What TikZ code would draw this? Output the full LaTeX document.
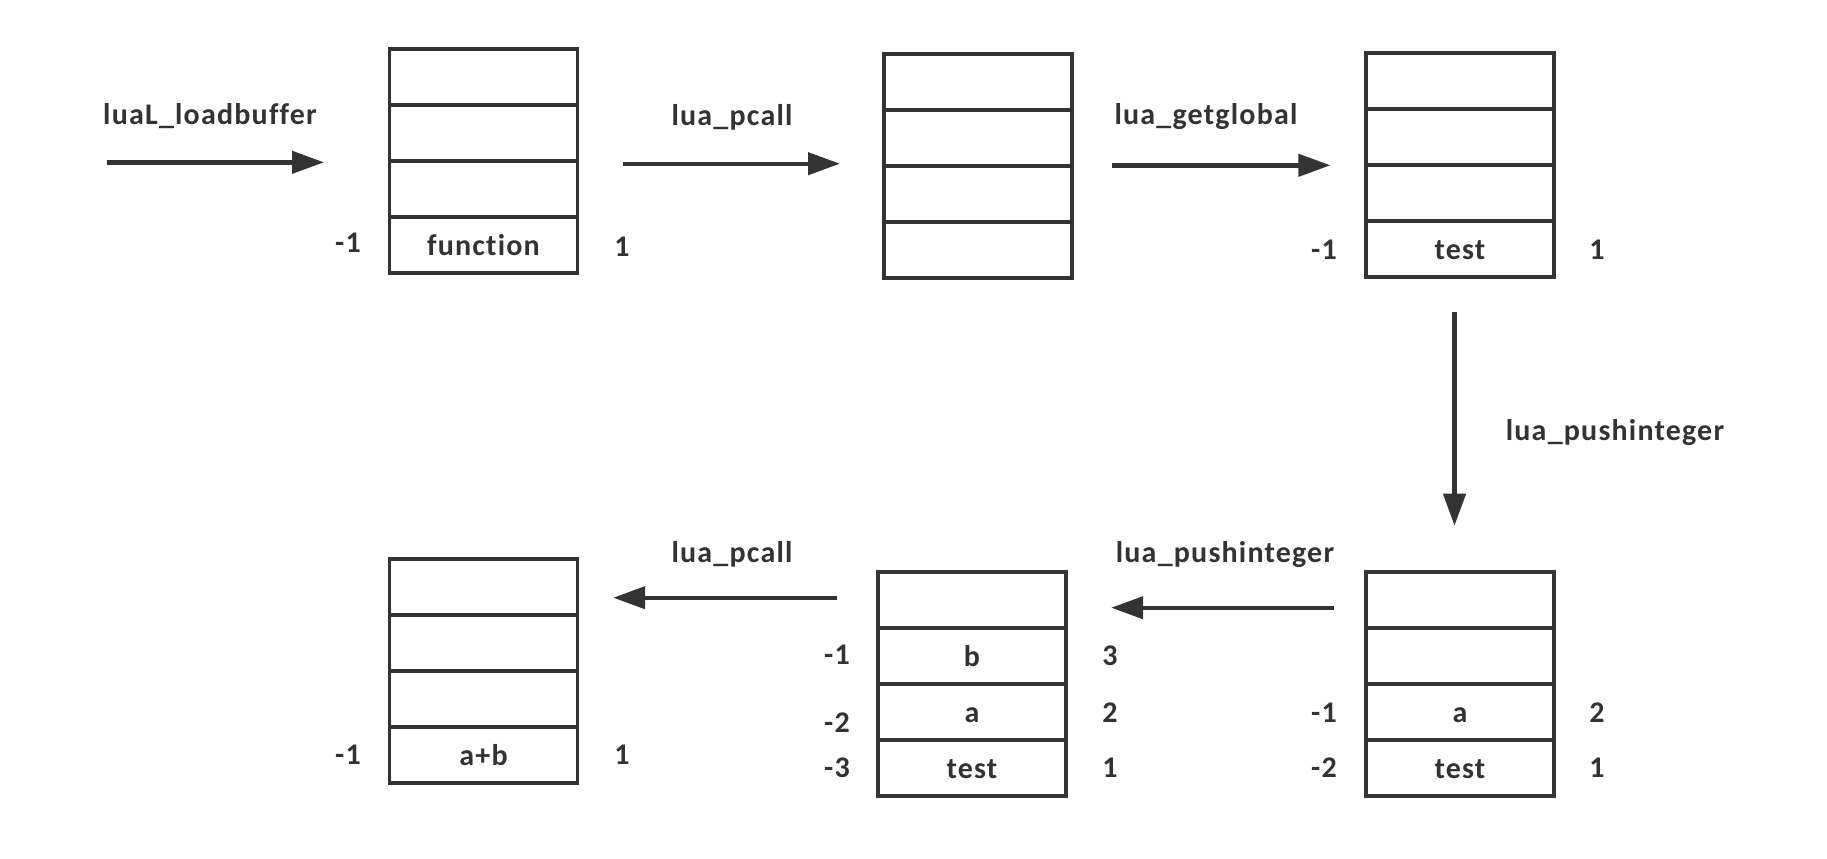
\documentclass[tikz,border=0pt]{standalone}
\usepackage{fontspec}
\newfontfamily\lblfont{Carlito}[LetterSpace=4,Ligatures={NoCommon}]
\usetikzlibrary{arrows.meta,calc}
\definecolor{ink}{HTML}{333333}
\tikzset{
  txt/.style={font=\lblfont\bfseries\fontsize{15}{18}\selectfont, text=ink, inner sep=0pt},
  cell/.style={txt, draw=ink, line width=1.8pt, minimum width=94pt, minimum height=28pt,
               text height=10.5pt, text depth=0pt},
  side/.style={txt, anchor=base},
  lbl/.style={txt, anchor=base},
  arr/.style={draw=ink, line width=2.2pt, -{Triangle[length=16pt,width=11pt]}}
}
\newcommand\mystack[7]{%
  \node[cell] (#1a) at ({#2},{#3+28}) {#4};
  \node[cell] (#1b) at ({#2},{#3+84}) {#5};
  \node[cell] (#1c) at ({#2},{#3+140}) {#6};
  \node[cell] (#1d) at ({#2},{#3+196}) {#7};
}
\begin{document}
\begin{tikzpicture}[x=0.5pt,y=-0.5pt]
\useasboundingbox (0,0) rectangle (1827,858);
% stacks
\mystack{s1}{483.5}{49}{}{}{}{function}
\mystack{s2}{978}{54}{}{}{}{}
\mystack{s3}{1460}{53}{}{}{}{test}
\mystack{s4}{1460}{572}{}{}{a}{test}
\mystack{s5}{972}{572}{}{b}{a}{test}
\mystack{s6}{483.5}{559}{}{}{}{a+b}
% side labels
\node[side] (s1l) at (348,252.7) {-1};
\node[side] (s1r) at (622,256) {1};
\node[side] (s3l) at (1324,259) {-1};
\node[side] (s3r) at (1597,259) {1};
\node[side] (s4l1) at (1324,722) {-1};
\node[side] (s4r1) at (1597,722) {2};
\node[side] (s4l2) at (1324,777) {-2};
\node[side] (s4r2) at (1597,777) {1};
\node[side] (s5l1) at (837,664) {-1};
\node[side] (s5r1) at (1110,665) {3};
\node[side] (s5l2) at (837,732) {-2};
\node[side] (s5r2) at (1110,722) {2};
\node[side] (s5l3) at (837,777) {-3};
\node[side] (s5r3) at (1110,777) {1};
\node[side] (s6l) at (348,764) {-1};
\node[side] (s6r) at (622,764) {1};
% arrow end points
\coordinate (a1s) at (106.7,162.3); \coordinate (a1e) at (324,162.3);
\coordinate (a2s) at (622.5,163.7); \coordinate (a2e) at (840,163.7);
\coordinate (a3s) at (1112.4,165.3); \coordinate (a3e) at (1330.4,165.3);
\coordinate (a4s) at (1454.5,311.7); \coordinate (a4e) at (1454.5,525.7);
\coordinate (a5s) at (1334.4,607.7); \coordinate (a5e) at (1111.2,607.7);
\coordinate (a6s) at (836.5,597.7); \coordinate (a6e) at (613.2,597.7);
\draw[arr] (a1s) -- (a1e);
\draw[arr] (a2s) -- (a2e);
\draw[arr] (a3s) -- (a3e);
\draw[arr] (a4s) -- (a4e);
\draw[arr] (a5s) -- (a5e);
\draw[arr] (a6s) -- (a6e);
% arrow labels
\node[lbl] (l1) at (210,124) {luaL\_loadbuffer};
\node[lbl] (l2) at (732,125) {lua\_pcall};
\node[lbl] (l3) at (1206,124) {lua\_getglobal};
\node[lbl] (l4) at (1615,440.7) {lua\_pushinteger};
\node[lbl] (l5) at (1225,562) {lua\_pushinteger};
\node[lbl] (l6) at (732,562) {lua\_pcall};
\end{tikzpicture}
\end{document}
